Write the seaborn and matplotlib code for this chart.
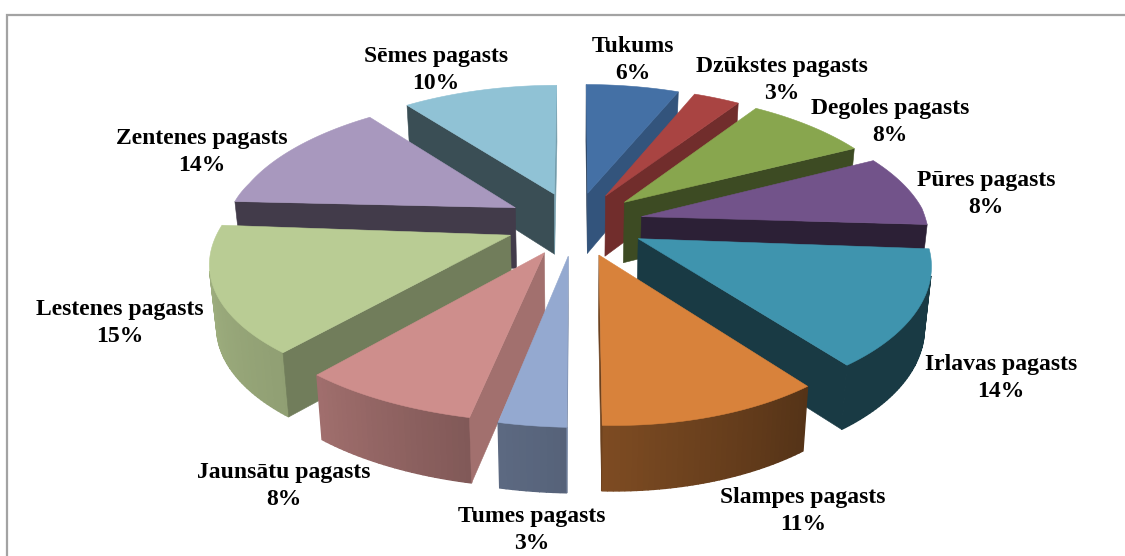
import numpy as np
import seaborn as sns
import matplotlib
matplotlib.use("Agg")
import matplotlib.pyplot as plt
from matplotlib.patches import Polygon

# ---- data ----
regions = ["Tukums", "Dzūkstes pagasts", "Degoles pagasts", "Pūres pagasts",
           "Irlavas pagasts", "Slampes pagasts", "Tumes pagasts", "Jaunsātu pagasts",
           "Lestenes pagasts", "Zentenes pagasts", "Sēmes pagasts"]
shares = [6, 3, 8, 8, 14, 11, 3, 8, 15, 14, 10]
top_colors = ["#4470A5", "#A94442", "#88A64E", "#72538A", "#3F94AE", "#D8823B",
              "#94A9D0", "#CE8E8C", "#B9CC94", "#A898BE", "#90C2D5"]

# ---- layout ----
label_centers = [(633, 60), (782, 80), (890, 122), (986, 194), (1001, 378), (803, 511),
                 (532, 530), (284, 486), (120, 323), (202, 152), (436, 70)]
CX, CY = 575.0, 223.5
RX, RY = 288.0, 132.6
KX_BACK, KX_FRONT = 0.13, 0.15
KY_BACK, KY_FRONT = 0.145, 0.157
EXPLODE = 0.24
DEPTH = 61.0
ROLL = 0.02
SKEW_LEFT, SKEW_RIGHT = 11.0, 15.0
BULGE = 3.0
WALL_TAPER = 0.98

sns.set_theme(style="white")
plt.rcParams["font.family"] = ["Liberation Serif", "DejaVu Serif"]
fig = plt.figure(figsize=(11.25, 5.56), dpi=100, facecolor="white")
ax = fig.add_axes([0, 0, 1, 1])
ax.set_xlim(0, 1125)
ax.set_ylim(556, 0)
ax.axis("off")


def project(X, Y, down=False):
    kx = KX_BACK if Y > 0 else KX_FRONT
    ky = KY_BACK if Y > 0 else KY_FRONT
    skew = SKEW_RIGHT if X > 0 else SKEW_LEFT
    x = CX + RX * X / (1 + kx * Y) - skew * abs(X) * max(-Y, 0)
    span = 0.15 if X > 0 else 0.35
    roll = ROLL * (1 - np.clip(Y / span, 0, 1))
    y = CY - RY * Y / (1 + ky * Y) + roll * (x - CX) + BULGE * X ** 2
    if down:
        y += DEPTH * (1 - 0.06 * Y)
        x = CX + (x - CX) * WALL_TAPER
    return x, y


def wall_shade(phi):
    return np.interp(phi % 360, [50, 100, 112, 122, 130, 151, 180, 230, 270, 320],
                     [.85, .79, .75, .67, .61, .45, .39, .39, .50, .80])


def rim_shade(theta):
    return np.interp(theta % 360, [0, 90, 140, 180, 190, 220, 270, 360],
                     [.75, .39, .39, .58, .62, .78, .88, .88])


def shaded(color, f):
    return tuple(f * c for c in matplotlib.colors.to_rgb(color))


def quad_area(pts):
    x, y = np.array(pts).T
    return 0.5 * np.sum(x * np.roll(y, -1) - np.roll(x, -1) * y)


palette = sns.color_palette(top_colors)
fracs = np.array(shares, dtype=float) / sum(shares)
edges = np.concatenate([[0], np.cumsum(fracs)]) * 360
mids = (edges[:-1] + edges[1:]) / 2

order = np.argsort(-np.cos(np.radians(mids)))
z = 2
for i in order:
    a0, a1, mid = edges[i], edges[i + 1], mids[i]
    ox = EXPLODE * np.sin(np.radians(mid))
    oy = EXPLODE * np.cos(np.radians(mid))
    n = max(int(a1 - a0), 3)
    angles = np.linspace(a0, a1, n + 1)
    rim_X = ox + np.sin(np.radians(angles))
    rim_Y = oy + np.cos(np.radians(angles))
    col = palette[i]

    top = [project(ox, oy)] + [project(x, y) for x, y in zip(rim_X, rim_Y)]

    # outer wall first, radial walls after: the shared corners stay clean
    for k in range(n):
        p = (rim_X[k], rim_Y[k])
        q = (rim_X[k + 1], rim_Y[k + 1])
        quad = [project(*p), project(*q), project(*q, True), project(*p, True)]
        if quad_area(quad) < 0:
            c = shaded(col, rim_shade((angles[k] + angles[k + 1]) / 2))
            ax.add_patch(Polygon(quad, closed=True, fc=c, ec=c, lw=1.0, zorder=z))
            z += 1
    for (px, py, qx, qy, phi) in [
        (ox, oy, rim_X[0], rim_Y[0], a0 - 90),
        (rim_X[-1], rim_Y[-1], ox, oy, a1 + 90),
    ]:
        quad = [project(px, py), project(qx, qy), project(qx, qy, True), project(px, py, True)]
        if quad_area(quad) < 0:
            c = shaded(col, wall_shade(phi))
            ax.add_patch(Polygon(quad, closed=True, fc=c, ec=c, lw=0.4, zorder=z))
            z += 1
    ax.add_patch(Polygon(top, closed=True, fc=col, ec=col, lw=0.4, zorder=z))
    z += 1

# frame
ax.plot([7, 7, 1125], [556, 15, 15], color="#A3A3A3", lw=1.6, zorder=1, solid_joinstyle="miter")

for name, share, (lx, ly) in zip(regions, shares, label_centers):
    ax.text(lx, ly, f"{name}\n{share}%", ha="center", va="center", fontsize=17,
            fontweight="bold", color="black", linespacing=1.4, zorder=z + 1)

fig.savefig("out.png", dpi=100, facecolor="white")
